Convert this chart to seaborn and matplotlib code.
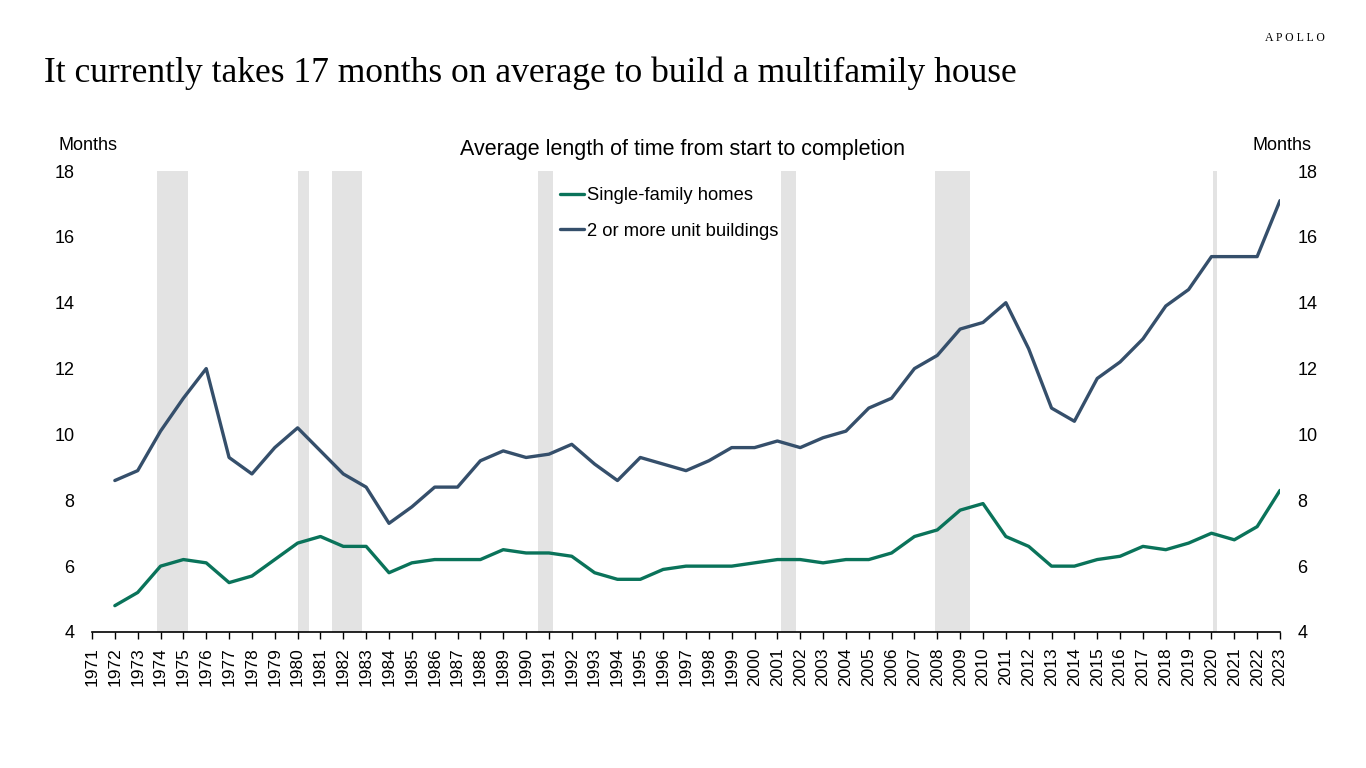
import numpy as np
import pandas as pd
import matplotlib
matplotlib.use("Agg")
import matplotlib.pyplot as plt
import seaborn as sns

sns.set_theme(style="white")
plt.rcParams['font.family'] = ['Liberation Sans', 'DejaVu Sans']
plt.rcParams['text.color'] = 'black'
plt.rcParams['xtick.color'] = 'black'
plt.rcParams['ytick.color'] = 'black'

years = list(range(1972, 2024))
single_family = [4.8, 5.2, 6.0, 6.2, 6.1, 5.5, 5.7, 6.2, 6.7, 6.9,
                 6.6, 6.6, 5.8, 6.1, 6.2, 6.2, 6.2, 6.5, 6.4, 6.4,
                 6.3, 5.8, 5.6, 5.6, 5.9, 6.0, 6.0, 6.0, 6.1, 6.2,
                 6.2, 6.1, 6.2, 6.2, 6.4, 6.9, 7.1, 7.7, 7.9, 6.9,
                 6.6, 6.0, 6.0, 6.2, 6.3, 6.6, 6.5, 6.7, 7.0, 6.8,
                 7.2, 8.3]
multi_unit = [8.6, 8.9, 10.1, 11.1, 12.0, 9.3, 8.8, 9.6, 10.2, 9.5,
              8.8, 8.4, 7.3, 7.8, 8.4, 8.4, 9.2, 9.5, 9.3, 9.4,
              9.7, 9.1, 8.6, 9.3, 9.1, 8.9, 9.2, 9.6, 9.6, 9.8,
              9.6, 9.9, 10.1, 10.8, 11.1, 12.0, 12.4, 13.2, 13.4, 14.0,
              12.6, 10.8, 10.4, 11.7, 12.2, 12.9, 13.9, 14.4, 15.4, 15.4,
              15.4, 17.1]

# NBER recessions (start, end) in fractional years
recessions = [(1973.83, 1975.2), (1980.0, 1980.5), (1981.5, 1982.83),
              (1990.5, 1991.17), (2001.17, 2001.83), (2007.92, 2009.42),
              (2020.08, 2020.25)]

df = pd.DataFrame({
    "year": years * 2,
    "months": single_family + multi_unit,
    "series": ["Single-family homes"] * len(years) + ["2 or more unit buildings"] * len(years),
})

fig = plt.figure(figsize=(13.66, 7.68), dpi=100)
ax = fig.add_axes([92 / 1366, 1 - 632 / 768, (1280 - 92) / 1366, (632 - 171) / 768])

for start, end in recessions:
    ax.axvspan(start, end, color="#e3e3e3", lw=0, zorder=0)

sns.lineplot(data=df, x="year", y="months", hue="series",
             palette=["#0a735a", "#354f6b"], linewidth=2.4, ax=ax, zorder=3)

ax.set_xlim(1971, 2023)
ax.set_ylim(4, 18)
ax.set_xticks(range(1971, 2024))
ax.set_xticklabels([str(y) for y in range(1971, 2024)], rotation=90, fontsize=12.5)
ax.set_yticks(range(4, 19, 2))
ax.tick_params(axis="y", labelleft=True, labelright=True, length=0, labelsize=13, pad=12.5)
ax.tick_params(axis="x", bottom=True, length=5, width=1, color="black", pad=6)
ax.set_xlabel("")
ax.set_ylabel("")
for side in ["top", "left", "right"]:
    ax.spines[side].set_visible(False)
ax.spines["bottom"].set_color("black")
ax.spines["bottom"].set_linewidth(1.2)

leg = ax.legend(loc="upper left", bbox_to_anchor=(0.38, 1.0), frameon=False,
                fontsize=13.2, handlelength=1.3, handletextpad=0.2, labelspacing=1.0)

fig.text(44 / 1366, 1 - 73 / 768, "It currently takes 17 months on average to build a multifamily house",
         fontsize=25.6, family="Liberation Serif", va="center", ha="left")
fig.text(1325 / 1366, 1 - 38 / 768, "A P O L L O", fontsize=8.5, family="Liberation Serif",
         va="center", ha="right")
fig.text(683 / 1366, 1 - 149 / 768, "Average length of time from start to completion",
         fontsize=15.5, va="center", ha="center")
fig.text(58 / 1366, 1 - 146 / 768, "Months", fontsize=13, va="center", ha="left")
fig.text(1311 / 1366, 1 - 146 / 768, "Months", fontsize=13, va="center", ha="right")

fig.savefig("out.png", dpi=100, facecolor="white")
